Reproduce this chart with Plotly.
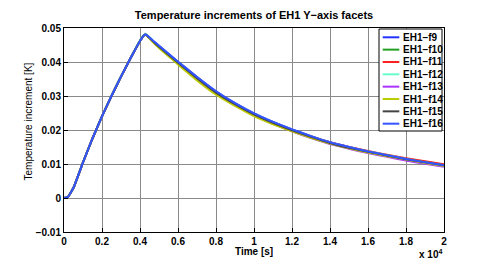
import plotly.graph_objects as go

time_s = [0, 200, 500, 1000, 1500, 2000, 2500, 3000, 3500, 4000, 4200, 4300, 4400, 4700, 5000,
          5500, 6000, 7000, 8000, 9000, 10000, 11000, 12000, 13000, 14000, 15000,
          16000, 17000, 18000, 19000, 20000]

f9 = [0, 0.0003, 0.0030, 0.0105, 0.0175, 0.0240, 0.0300, 0.0357, 0.0411, 0.0462, 0.0478, 0.0481, 0.0477,
      0.0462, 0.0448, 0.0424, 0.0401, 0.0356, 0.0314, 0.0279, 0.0249, 0.0224, 0.0202, 0.0182,
      0.0164, 0.0150, 0.0137, 0.0126, 0.0115, 0.0105, 0.0096]
f10 = [0, 0.0003, 0.0030, 0.0105, 0.0175, 0.0240, 0.0300, 0.0357, 0.0411, 0.0462, 0.0478, 0.0481, 0.0476,
       0.0459, 0.0444, 0.0420, 0.0397, 0.0350, 0.0308, 0.0274, 0.0244, 0.0219, 0.0197, 0.0178,
       0.0161, 0.0147, 0.0135, 0.0124, 0.0114, 0.0104, 0.0095]
f11 = [0, 0.0003, 0.0030, 0.0105, 0.0175, 0.0240, 0.0300, 0.0357, 0.0411, 0.0462, 0.0478, 0.0481, 0.0476,
       0.0460, 0.0445, 0.0421, 0.0398, 0.0352, 0.0310, 0.0276, 0.0246, 0.0222, 0.0200, 0.0181,
       0.0164, 0.0150, 0.0138, 0.0127, 0.0117, 0.0108, 0.0099]
f12 = [0, 0.0003, 0.0030, 0.0105, 0.0175, 0.0241, 0.0301, 0.0358, 0.0412, 0.0464, 0.0480, 0.0483, 0.0478,
       0.0461, 0.0446, 0.0422, 0.0399, 0.0353, 0.0311, 0.0277, 0.0247, 0.0222, 0.0200, 0.0181,
       0.0163, 0.0149, 0.0137, 0.0126, 0.0115, 0.0105, 0.0096]
f13 = [0, 0.0003, 0.0030, 0.0105, 0.0175, 0.0240, 0.0300, 0.0357, 0.0411, 0.0462, 0.0478, 0.0481, 0.0476,
       0.0459, 0.0444, 0.0419, 0.0396, 0.0349, 0.0307, 0.0273, 0.0243, 0.0218, 0.0196, 0.0176,
       0.0159, 0.0145, 0.0132, 0.0121, 0.0110, 0.0101, 0.0092]
f14 = [0, 0.0003, 0.0030, 0.0105, 0.0175, 0.0240, 0.0300, 0.0357, 0.0411, 0.0462, 0.0478, 0.0480, 0.0475,
       0.0457, 0.0441, 0.0417, 0.0393, 0.0346, 0.0304, 0.0271, 0.0241, 0.0217, 0.0196, 0.0177,
       0.0160, 0.0146, 0.0134, 0.0123, 0.0113, 0.0103, 0.0094]
f15 = [0, 0.0003, 0.0030, 0.0105, 0.0175, 0.0240, 0.0300, 0.0357, 0.0411, 0.0462, 0.0478, 0.0481, 0.0476,
       0.0460, 0.0445, 0.0421, 0.0398, 0.0352, 0.0310, 0.0276, 0.0246, 0.0221, 0.0199, 0.0180,
       0.0162, 0.0148, 0.0136, 0.0125, 0.0114, 0.0105, 0.0096]
f16 = [0, 0.0003, 0.0030, 0.0105, 0.0175, 0.0240, 0.0300, 0.0357, 0.0411, 0.0462, 0.0478, 0.0481, 0.0477,
       0.0462, 0.0448, 0.0424, 0.0401, 0.0356, 0.0314, 0.0279, 0.0249, 0.0224, 0.0202, 0.0182,
       0.0164, 0.0150, 0.0137, 0.0126, 0.0115, 0.0105, 0.0096]

series_names = ["EH1\u2212f9", "EH1\u2212f10", "EH1\u2212f11", "EH1\u2212f12",
                "EH1\u2212f13", "EH1\u2212f14", "EH1\u2212f15", "EH1\u2212f16"]
series_values = [f9, f10, f11, f12, f13, f14, f15, f16]
series_colors = ["#2233ff", "#22a022", "#ff2020", "#66ffcc", "#aa33ff", "#bbcc00", "#444444", "#3355ff"]

x_tickvals = [0, 2000, 4000, 6000, 8000, 10000, 12000, 14000, 16000, 18000, 20000]
x_ticktext = ["0", "0.2", "0.4", "0.6", "0.8", "1", "1.2", "1.4", "1.6", "1.8", "2"]
y_tickvals = [-0.01, 0, 0.01, 0.02, 0.03, 0.04, 0.05]
y_ticktext = ["\u22120.01", "0", "0.01", "0.02", "0.03", "0.04", "0.05"]

FONT = "Liberation Sans"
# page body has an 8px margin in the browser; size the figure to fit inside
W, H = 475, 257
ML, MR, MT, MB = 56, 39, 20, 33
PW, PH = W - ML - MR, H - MT - MB

fig = go.Figure()
for name, vals, col in zip(series_names, series_values, series_colors):
    fig.add_trace(go.Scatter(x=time_s, y=vals, name=name, mode="lines", showlegend=False,
                             line=dict(color=col, width=2, shape="spline", smoothing=0.3)))

axis_common = dict(showline=True, linecolor="black", linewidth=1, mirror=True,
                   ticks="inside", ticklen=4, tickcolor="black",
                   showgrid=True, gridcolor="#8a8a8a", gridwidth=1, zeroline=False,
                   tickfont=dict(family=FONT, size=10, color="black", weight="bold"))

fig.update_xaxes(range=[0, 20000], tickvals=x_tickvals, ticktext=x_ticktext, **axis_common)
fig.update_yaxes(range=[-0.01, 0.05], tickvals=y_tickvals, ticktext=y_ticktext, **axis_common)

# custom compact legend (box, swatches, labels) in paper coordinates
shapes = []
annotations = []
lx0, lx1 = (371 - ML) / PW, (434 - ML) / PW
ly1, ly0 = (MT + PH - 21) / PH, (MT + PH - 123) / PH
shapes.append(dict(type="rect", xref="paper", yref="paper", x0=lx0, x1=lx1, y0=ly0, y1=ly1,
                   line=dict(color="black", width=1), fillcolor="white", layer="above"))
for i, (name, col) in enumerate(zip(series_names, series_colors)):
    py = 29.3 + 12.34 * i
    yy = (MT + PH - py) / PH
    shapes.append(dict(type="line", xref="paper", yref="paper",
                       x0=(374.7 - ML) / PW, x1=(391.3 - ML) / PW, y0=yy, y1=yy,
                       line=dict(color=col, width=2), layer="above"))
    annotations.append(dict(text=name, xref="paper", yref="paper", x=(393 - ML) / PW, y=yy,
                            xanchor="left", yanchor="middle", showarrow=False,
                            font=dict(family=FONT, size=10, color="black", weight="bold")))

annotations.append(dict(text="Time [s]", xref="paper", yref="paper", x=0.5, y=-19.5 / PH,
                        xanchor="center", yanchor="middle", showarrow=False,
                        font=dict(family=FONT, size=10, color="black", weight="bold")))
annotations.append(dict(text="x 10<sup>4</sup>", xref="paper", yref="paper", x=1.0, y=-22 / PH,
                        xanchor="right", yanchor="middle", showarrow=False,
                        font=dict(family=FONT, size=10, color="black", weight="bold")))
annotations.append(dict(text="Temperature increment [K]", xref="paper", yref="paper",
                        x=(20 - ML) / PW, y=(MT + PH - 113.5) / PH, textangle=-90,
                        xanchor="center", yanchor="middle", showarrow=False,
                        font=dict(family=FONT, size=10, color="black")))

fig.update_layout(
    width=W, height=H,
    margin=dict(l=ML, r=MR, t=MT, b=MB),
    paper_bgcolor="white", plot_bgcolor="white",
    title=dict(text="Temperature increments of EH1 Y\u2212axis facets", x=(ML + PW / 2) / W,
               xanchor="center", xref="container", y=1 - 7 / H, yanchor="middle",
               font=dict(family=FONT, size=11, color="black", weight="bold")),
    showlegend=False,
    shapes=shapes,
    annotations=annotations,
)

fig.write_html("out.html")
